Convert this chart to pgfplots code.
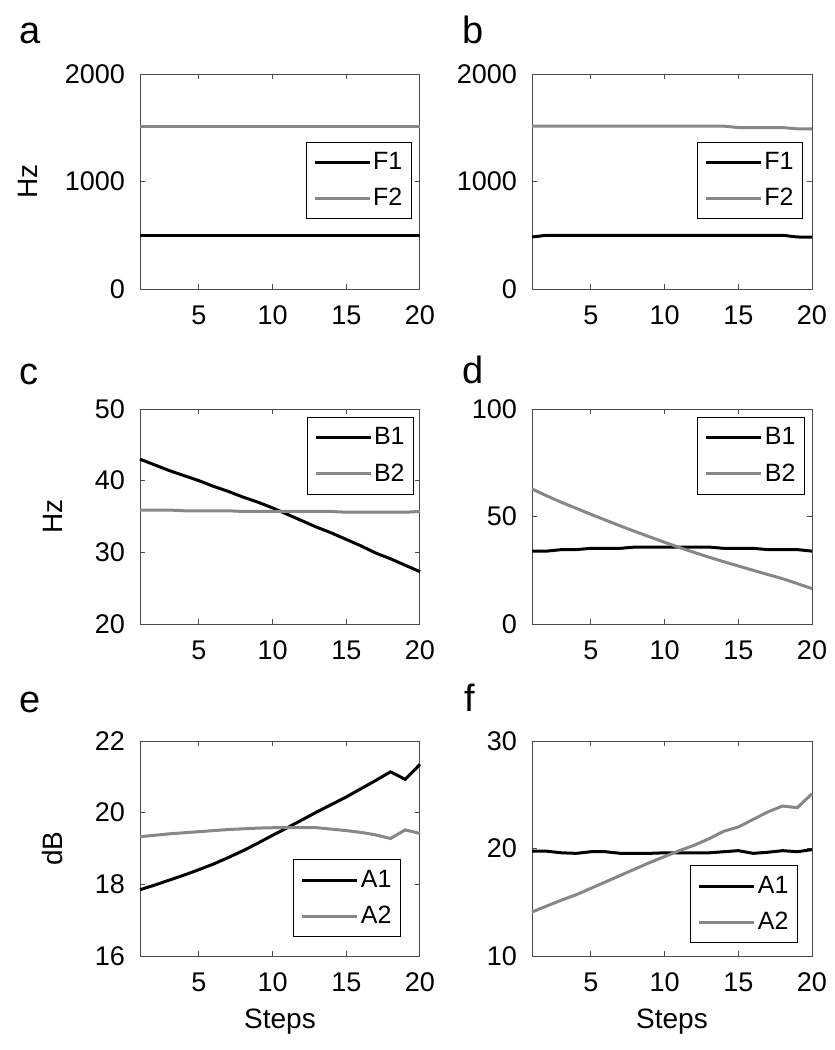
\documentclass[border=0pt]{standalone}
\usepackage{fontspec}
\setmainfont{Liberation Sans}
\usepackage{pgfplots}
\pgfplotsset{compat=1.18}

\definecolor{axgray}{gray}{0.3}
\definecolor{lngray}{gray}{0.53}

\newcommand{\tickfont}{\fontsize{13.5}{15}\selectfont}
\newcommand{\legfont}{\fontsize{12.5}{14}\selectfont}
\newcommand{\labfont}{\fontsize{14}{16}\selectfont}

% one MATLAB-like panel
\pgfplotsset{
  panel/.style={
    width=140pt, height=107.5pt, scale only axis,
    xmin=1, xmax=20, xtick={5,10,15,20},
    axis line style={axgray, line width=0.5pt},
    tick style={axgray, line width=0.5pt},
    major tick length=2.5pt,
    tick align=inside,
    /pgf/number format/assume math mode=true,
    /pgf/number format/1000 sep={},
    scaled y ticks=false,
    clip=false,
    every tick label/.append style={font=\tickfont},
    yticklabel style={xshift=-4pt},
    xticklabel style={yshift=-5pt},
    every axis y label/.style={rotate=90, anchor=center, font=\labfont},
    every axis x label/.style={at={(axis description cs:0.5,-0.306)}, anchor=center, font=\labfont},
    legend cell align=left,
    legend style={draw=black, line width=0.5pt, fill=white,
      font=\legfont, inner xsep=3.5pt, inner ysep=2.5pt,
      row sep=3pt, nodes={inner xsep=1pt, inner ysep=2.5pt}},
    legend image code/.code={\draw[#1] (0pt,0pt) -- (27.5pt,0pt);},
    every axis plot/.append style={line width=1.5pt, mark=none},
  },
  k/.style={black, line width=1.5pt},
  g/.style={lngray, line width=1.5pt},
}
\newcommand{\letter}[3]{\node[anchor=base west, font=\fontsize{19}{21}\selectfont] at (rel axis cs:#1,#2) {#3};}

\pgfplotstableread{
x F1 F2
1 500 1515
2 500 1515
3 500 1515
4 500 1515
5 500 1515
6 500 1515
7 500 1515
8 500 1515
9 500 1515
10 500 1515
11 500 1515
12 500 1515
13 500 1515
14 500 1515
15 500 1515
16 500 1515
17 500 1515
18 500 1515
19 500 1515
20 500 1515
}\tabA

\pgfplotstableread{
x F1 F2
1 484 1515
2 500 1515
3 500 1515
4 500 1515
5 500 1515
6 500 1515
7 500 1515
8 500 1515
9 500 1515
10 500 1515
11 500 1515
12 500 1515
13 500 1515
14 500 1515
15 500 1502
16 500 1502
17 500 1502
18 500 1502
19 484 1490
20 482 1490
}\tabB

\pgfplotstableread{
x B1 B2
1 43.0 35.9
2 42.2 35.9
3 41.4 35.9
4 40.7 35.8
5 40.0 35.8
6 39.2 35.8
7 38.5 35.8
8 37.7 35.7
9 37.0 35.7
10 36.2 35.7
11 35.3 35.7
12 34.4 35.7
13 33.5 35.7
14 32.7 35.7
15 31.8 35.6
16 30.9 35.6
17 29.9 35.6
18 29.1 35.6
19 28.2 35.6
20 27.3 35.7
}\tabC

\pgfplotstableread{
x B1 B2
1 33.9 62.8
2 33.9 59.6
3 34.6 56.6
4 34.6 53.8
5 35.2 51.0
6 35.2 48.3
7 35.2 45.6
8 35.8 43.0
9 35.8 40.5
10 35.8 38.0
11 35.8 35.6
12 35.8 33.3
13 35.8 31.1
14 35.2 29.0
15 35.2 27.0
16 35.2 25.0
17 34.6 23.0
18 34.6 21.1
19 34.6 18.8
20 33.9 16.5
}\tabD

\pgfplotstableread{
x A1 A2
1 17.85 19.33
2 17.98 19.37
3 18.12 19.41
4 18.26 19.44
5 18.41 19.47
6 18.57 19.50
7 18.75 19.53
8 18.94 19.55
9 19.15 19.57
10 19.37 19.58
11 19.58 19.58
12 19.80 19.58
13 20.02 19.58
14 20.23 19.54
15 20.44 19.50
16 20.67 19.45
17 20.90 19.38
18 21.14 19.28
19 20.93 19.52
20 21.35 19.42
}\tabE

\pgfplotstableread{
x A1 A2
1 19.75 14.10
2 19.75 14.65
3 19.60 15.20
4 19.55 15.70
5 19.70 16.30
6 19.70 16.90
7 19.55 17.50
8 19.55 18.10
9 19.55 18.70
10 19.60 19.25
11 19.60 19.80
12 19.60 20.30
13 19.60 20.90
14 19.70 21.60
15 19.80 22.00
16 19.55 22.70
17 19.65 23.40
18 19.80 23.95
19 19.70 23.80
20 19.90 25.10
}\tabF

\begin{document}
\begin{tikzpicture}
\path[use as bounding box] (0pt,0pt) rectangle (417.5pt,-525pt);

% a
\begin{axis}[panel, at={(70pt,-144.5pt)}, anchor=south west,
  ymin=0, ymax=2000, ytick={0,1000,2000},
  ylabel={Hz}, ylabel style={at={(axis description cs:-0.4,0.5)}},
  legend style={at={(0.971,0.505)}, anchor=east}]
\addplot[k] table[x=x, y=F1] {\tabA};
\addplot[g] table[x=x, y=F2] {\tabA};
\legend{F1,F2}
\letter{-0.457}{1.14}{a}
\end{axis}

% b
\begin{axis}[panel, at={(266pt,-144.5pt)}, anchor=south west,
  ymin=0, ymax=2000, ytick={0,1000,2000},
  legend style={at={(0.968,0.505)}, anchor=east}]
\addplot[k] table[x=x, y=F1] {\tabB};
\addplot[g] table[x=x, y=F2] {\tabB};
\legend{F1,F2}
\letter{-0.275}{1.14}{b}
\end{axis}

% c
\begin{axis}[panel, at={(70pt,-312pt)}, anchor=south west,
  ymin=20, ymax=50, ytick={20,30,40,50},
  ylabel={Hz}, ylabel style={at={(axis description cs:-0.311,0.5)}},
  legend style={at={(0.979,0.963)}, anchor=north east}]
\addplot[k] table[x=x, y=B1] {\tabC};
\addplot[g] table[x=x, y=B2] {\tabC};
\legend{B1,B2}
\letter{-0.457}{1.116}{c}
\end{axis}

% d
\begin{axis}[panel, at={(266pt,-312pt)}, anchor=south west,
  ymin=0, ymax=100, ytick={0,50,100},
  legend style={at={(0.975,0.963)}, anchor=north east}]
\addplot[k] table[x=x, y=B1] {\tabD};
\addplot[g] table[x=x, y=B2] {\tabD};
\legend{B1,B2}
\letter{-0.275}{1.12}{d}
\end{axis}

% e
\begin{axis}[panel, at={(70pt,-478pt)}, anchor=south west,
  ymin=16, ymax=22, ytick={16,18,20,22},
  ylabel={dB}, ylabel style={at={(axis description cs:-0.311,0.5)}},
  xlabel={Steps},
  legend style={at={(0.932,0.088)}, anchor=south east}]
\addplot[k] table[x=x, y=A1] {\tabE};
\addplot[g] table[x=x, y=A2] {\tabE};
\legend{A1,A2}
\letter{-0.457}{1.135}{e}
\end{axis}

% f
\begin{axis}[panel, at={(266pt,-478pt)}, anchor=south west,
  ymin=10, ymax=30, ytick={10,20,30},
  xlabel={Steps},
  legend style={at={(0.95,0.06)}, anchor=south east}]
\addplot[k] table[x=x, y=A1] {\tabF};
\addplot[g] table[x=x, y=A2] {\tabF};
\legend{A1,A2}
\letter{-0.268}{1.135}{f}
\end{axis}
\end{tikzpicture}
\end{document}
